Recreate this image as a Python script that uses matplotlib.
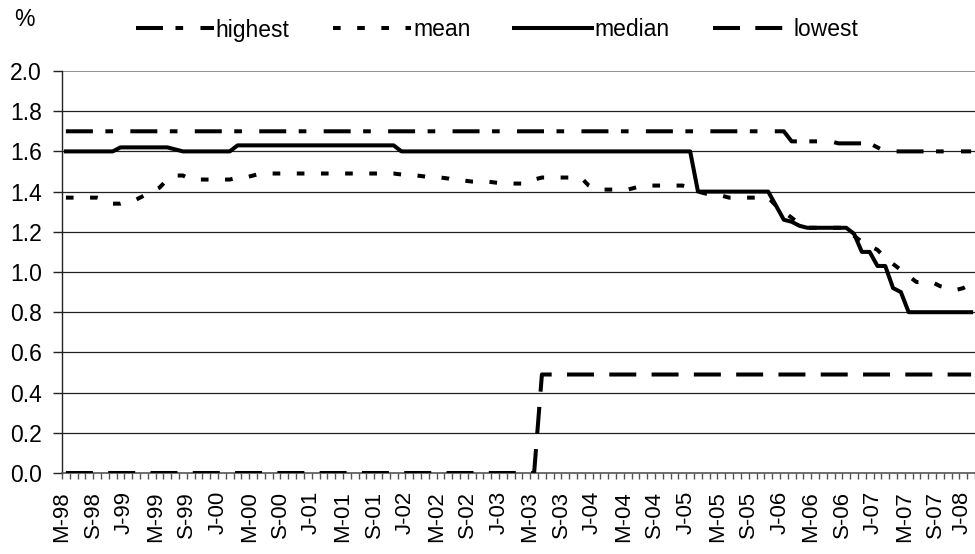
import matplotlib
matplotlib.use("Agg")
import matplotlib.pyplot as plt
from matplotlib.ticker import FixedLocator, MultipleLocator
from matplotlib.transforms import ScaledTranslation

plt.rcParams['font.family'] = ['Liberation Sans', 'DejaVu Sans']

# monthly, May-98 .. Jan-08
highest = [
    1.70, 1.70, 1.70, 1.70, 1.70, 1.70, 1.70, 1.70, 1.70, 1.70, 1.70, 1.70,
    1.70, 1.70, 1.70, 1.70, 1.70, 1.70, 1.70, 1.70, 1.70, 1.70, 1.70, 1.70,
    1.70, 1.70, 1.70, 1.70, 1.70, 1.70, 1.70, 1.70, 1.70, 1.70, 1.70, 1.70,
    1.70, 1.70, 1.70, 1.70, 1.70, 1.70, 1.70, 1.70, 1.70, 1.70, 1.70, 1.70,
    1.70, 1.70, 1.70, 1.70, 1.70, 1.70, 1.70, 1.70, 1.70, 1.70, 1.70, 1.70,
    1.70, 1.70, 1.70, 1.70, 1.70, 1.70, 1.70, 1.70, 1.70, 1.70, 1.70, 1.70,
    1.70, 1.70, 1.70, 1.70, 1.70, 1.70, 1.70, 1.70, 1.70, 1.70, 1.70, 1.70,
    1.70, 1.70, 1.70, 1.70, 1.70, 1.70, 1.70, 1.70, 1.70, 1.65, 1.65, 1.65,
    1.65, 1.65, 1.65, 1.64, 1.64, 1.64, 1.64, 1.64, 1.62, 1.60, 1.60, 1.60,
    1.60, 1.60, 1.60, 1.60, 1.60, 1.60, 1.60, 1.60, 1.60,
]
mean = [
    1.37, 1.37, 1.37, 1.37, 1.37, 1.36, 1.34, 1.34, 1.35, 1.36, 1.38, 1.40,
    1.42, 1.46, 1.48, 1.48, 1.46, 1.46, 1.46, 1.46, 1.46, 1.46, 1.47, 1.47,
    1.48, 1.49, 1.49, 1.49, 1.49, 1.49, 1.49, 1.49, 1.49, 1.49, 1.49, 1.49,
    1.49, 1.49, 1.49, 1.49, 1.49, 1.49, 1.49, 1.485, 1.48, 1.48, 1.475, 1.47,
    1.47, 1.465, 1.455, 1.455, 1.45, 1.45, 1.45, 1.445, 1.44, 1.44, 1.44, 1.44,
    1.46, 1.47, 1.47, 1.47, 1.47, 1.47, 1.47, 1.43, 1.41, 1.41, 1.41, 1.41,
    1.41, 1.42, 1.43, 1.43, 1.43, 1.43, 1.43, 1.43, 1.42, 1.40, 1.39, 1.39,
    1.38, 1.37, 1.37, 1.37, 1.37, 1.37, 1.37, 1.33, 1.30, 1.27, 1.24, 1.22,
    1.22, 1.22, 1.22, 1.22, 1.22, 1.18, 1.15, 1.13, 1.11, 1.07, 1.04, 1.01,
    0.98, 0.95, 0.95, 0.95, 0.93, 0.92, 0.91, 0.92, 0.94,
]
median = [
    1.60, 1.60, 1.60, 1.60, 1.60, 1.60, 1.60, 1.62, 1.62, 1.62, 1.62, 1.62,
    1.62, 1.62, 1.61, 1.60, 1.60, 1.60, 1.60, 1.60, 1.60, 1.60, 1.63, 1.63,
    1.63, 1.63, 1.63, 1.63, 1.63, 1.63, 1.63, 1.63, 1.63, 1.63, 1.63, 1.63,
    1.63, 1.63, 1.63, 1.63, 1.63, 1.63, 1.63, 1.60, 1.60, 1.60, 1.60, 1.60,
    1.60, 1.60, 1.60, 1.60, 1.60, 1.60, 1.60, 1.60, 1.60, 1.60, 1.60, 1.60,
    1.60, 1.60, 1.60, 1.60, 1.60, 1.60, 1.60, 1.60, 1.60, 1.60, 1.60, 1.60,
    1.60, 1.60, 1.60, 1.60, 1.60, 1.60, 1.60, 1.60, 1.60, 1.40, 1.40, 1.40,
    1.40, 1.40, 1.40, 1.40, 1.40, 1.40, 1.40, 1.33, 1.26, 1.25, 1.23, 1.22,
    1.22, 1.22, 1.22, 1.22, 1.22, 1.19, 1.10, 1.10, 1.03, 1.03, 0.92, 0.90,
    0.80, 0.80, 0.80, 0.80, 0.80, 0.80, 0.80, 0.80, 0.80,
]
lowest = [
    0.00, 0.00, 0.00, 0.00, 0.00, 0.00, 0.00, 0.00, 0.00, 0.00, 0.00, 0.00,
    0.00, 0.00, 0.00, 0.00, 0.00, 0.00, 0.00, 0.00, 0.00, 0.00, 0.00, 0.00,
    0.00, 0.00, 0.00, 0.00, 0.00, 0.00, 0.00, 0.00, 0.00, 0.00, 0.00, 0.00,
    0.00, 0.00, 0.00, 0.00, 0.00, 0.00, 0.00, 0.00, 0.00, 0.00, 0.00, 0.00,
    0.00, 0.00, 0.00, 0.00, 0.00, 0.00, 0.00, 0.00, 0.00, 0.00, 0.00, 0.00,
    0.00, 0.49, 0.49, 0.49, 0.49, 0.49, 0.49, 0.49, 0.49, 0.49, 0.49, 0.49,
    0.49, 0.49, 0.49, 0.49, 0.49, 0.49, 0.49, 0.49, 0.49, 0.49, 0.49, 0.49,
    0.49, 0.49, 0.49, 0.49, 0.49, 0.49, 0.49, 0.49, 0.49, 0.49, 0.49, 0.49,
    0.49, 0.49, 0.49, 0.49, 0.49, 0.49, 0.49, 0.49, 0.49, 0.49, 0.49, 0.49,
    0.49, 0.49, 0.49, 0.49, 0.49, 0.49, 0.49, 0.49, 0.49,
]

# one label every 4 months
tick_labels = ["M-98", "S-98", "J-99", "M-99", "S-99", "J-00", "M-00", "S-00",
               "J-01", "M-01", "S-01", "J-02", "M-02", "S-02", "J-03", "M-03",
               "S-03", "J-04", "M-04", "S-04", "J-05", "M-05", "S-05", "J-06",
               "M-06", "S-06", "J-07", "M-07", "S-07", "J-08"]

x = list(range(len(median)))
fs = 16.5
lw = 2.9

fig = plt.figure(figsize=(9.75, 5.54), dpi=100)
ax = fig.add_axes([62 / 975, 81 / 554, 913 / 975, 402 / 554])

# gridlines
for v in [0.2, 0.4, 0.6, 0.8, 1.0, 1.2, 1.4, 1.6, 1.8]:
    ax.axhline(v, color="#222222", lw=0.9, zorder=1)
ax.axhline(2.0, color="#909090", lw=1.4, zorder=1)

ax.plot(x, highest, color="black", lw=lw, ls=(0, (6.7, 3.1, 1.9, 4.3)), label="highest", zorder=3)
ax.plot(x, mean, color="black", lw=lw, ls=(0, (1.9, 4.1)), label="mean", zorder=3)
ax.plot(x, median, color="black", lw=lw, ls="-", label="median", zorder=3)
ax.plot(x, lowest, color="black", lw=lw, ls=(0, (6.7, 3.8)), label="lowest", zorder=3)

ax.set_xlim(-0.5, len(x) - 0.5)
ax.set_ylim(0, 2.0)

ax.yaxis.set_major_locator(MultipleLocator(0.2))
ax.set_yticklabels([f"{v:.1f}" for v in ax.get_yticks()], fontsize=fs)
ax.tick_params(axis="y", length=6.5, width=1, pad=8, color="#222222")

ax.set_xticks(range(0, len(x), 4))
ax.set_xticklabels(tick_labels, rotation=90, fontsize=16, va="top", ha="center")
ax.xaxis.set_minor_locator(FixedLocator([i - 0.5 for i in range(len(x) + 1)]))
ax.tick_params(axis="x", which="major", length=0, pad=13)
ax.tick_params(axis="x", which="minor", length=4.5, width=1, color="#555555")
labels = ax.get_xticklabels()
for k, lab in enumerate(labels):
    dx = -9 if k == len(labels) - 1 else -4  # keep the last label inside the figure
    lab.set_transform(lab.get_transform() + ScaledTranslation(dx / 100, 0, fig.dpi_scale_trans))

for s in ["top", "right"]:
    ax.spines[s].set_visible(False)
ax.spines["left"].set_color("#222222")
ax.spines["left"].set_linewidth(1)
ax.spines["bottom"].set_color("#555555")
ax.spines["bottom"].set_linewidth(1.2)

fig.text(24 / 975, 1 - 19 / 554, "%", fontsize=fs, ha="center", va="center")

fig.legend(loc="center", bbox_to_anchor=(497 / 975, 1 - 30 / 554), ncol=4,
           frameon=False, fontsize=fs, handlelength=3.4, handletextpad=0.1,
           columnspacing=1.9, borderaxespad=0)

fig.savefig("out.png", dpi=100)
